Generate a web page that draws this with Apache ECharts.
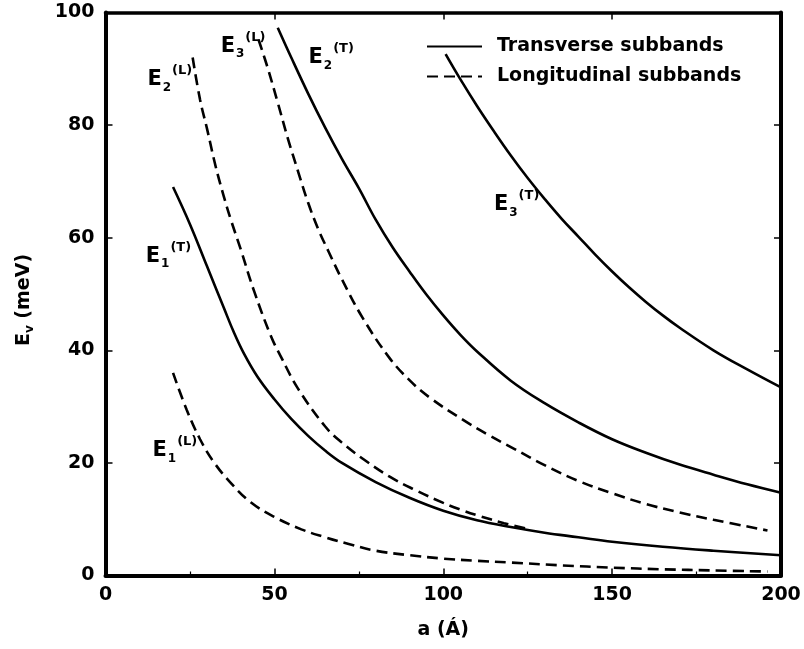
<!DOCTYPE html>
<html>
<head>
<meta charset="utf-8">
<script src="https://cdn.jsdelivr.net/npm/echarts@6/dist/echarts.min.js"></script>
<style>
html,body{margin:0;padding:0;background:#fff;}
#chart{width:804px;height:649px;}
</style>
</head>
<body>
<div id="chart"></div>
<script>
// ---- data ----
const xTicks = [0, 50, 100, 150, 200];
const yTicks = [0, 20, 40, 60, 80, 100];

const e1tX = [20, 25, 30, 35, 38, 41, 45, 50, 55, 60, 65, 70, 80, 90, 100, 110, 120, 130, 140, 150, 165, 180, 200];
const e1tY = [69, 62.4, 55.0, 47.6, 43.2, 39.4, 35.3, 31.3, 27.8, 24.8, 22.2, 20.0, 16.6, 13.8, 11.5, 9.8, 8.6, 7.6, 6.8, 6.0, 5.1, 4.4, 3.6];

const e2tX = [51, 55, 60, 65, 70, 75, 80, 85, 90, 95, 100, 105, 110, 120, 130, 140, 150, 160, 170, 180, 190, 200];
const e2tY = [97.3, 92.0, 85.6, 79.6, 74.0, 68.8, 63.2, 58.3, 54.0, 49.9, 46.2, 42.8, 39.8, 34.6, 30.6, 27.2, 24.2, 21.8, 19.7, 17.9, 16.2, 14.7];

const e3tX = [100.7, 105, 110, 115, 120, 125, 130, 135, 140, 145, 150, 155, 160, 165, 170, 180, 190, 200];
const e3tY = [92.6, 88.2, 83.4, 78.9, 74.6, 70.6, 66.9, 63.4, 60.2, 57.0, 54.0, 51.2, 48.6, 46.2, 44.0, 40.0, 36.6, 33.4];

const e1lX = [20, 24, 28, 32, 37, 43, 50, 58, 65, 72, 80, 90, 100, 110, 120, 135, 150, 165, 180, 196];
const e1lY = [36, 29.5, 24.2, 20.2, 16.5, 13.0, 10.4, 8.2, 6.8, 5.6, 4.4, 3.6, 3.0, 2.6, 2.3, 1.8, 1.4, 1.1, 0.9, 0.7];

const e2lX = [25.8, 28, 30, 32.6, 35, 37, 40, 44, 49, 52, 57, 65, 70, 76.5, 84, 91.3, 100, 106, 110, 118, 125];
const e2lY = [92, 84.5, 79.5, 72.7, 67.4, 63.4, 58.0, 50.5, 42.5, 38.8, 33.2, 26.5, 23.6, 20.6, 17.6, 15.3, 12.9, 11.5, 10.7, 9.3, 8.3];

const e3lX = [45.3, 48, 51, 54, 57, 60, 63, 66, 70, 76, 84, 90, 96, 106, 113, 121, 130, 140, 150, 160, 170, 180, 196];
const e3lY = [95.2, 90.2, 84.0, 77.6, 71.8, 66.2, 61.5, 57.6, 52.6, 45.9, 38.7, 34.7, 31.6, 27.6, 25.1, 22.5, 19.6, 16.8, 14.6, 12.7, 11.2, 9.9, 8.0];

// curve labels
const labelNames = ['E2L', 'E3L', 'E2T', 'E1T', 'E1L', 'E3T'];
const labelSub = ['2', '3', '2', '1', '1', '3'];
const labelSup = ['(L)', '(L)', '(T)', '(T)', '(L)', '(T)'];
const labelX = [12.4, 34.1, 60.1, 11.9, 13.9, 115];
const labelY = [88.1, 94.0, 92.0, 56.7, 22.2, 65.9];

const legendNames = ['Transverse subbands', 'Longitudinal subbands'];

// ---- build ----
const FONT = 'DejaVu Sans';
function pairs(xs, ys) { return xs.map((x, i) => [x, ys[i]]); }

const solidStyle = { color: '#000', width: 2.6, type: 'solid' };
const dashStyle = { color: '#000', width: 2.6, type: [11, 6] };

function curve(name, xs, ys, dashed) {
  return {
    type: 'line', name: name, data: pairs(xs, ys),
    showSymbol: false, symbol: 'none', smooth: 0.4,
    lineStyle: dashed ? dashStyle : solidStyle,
    itemStyle: { color: '#000' },
    silent: true, animation: false, z: 3
  };
}

const labelData = labelNames.map((n, i) => ({
  value: [labelX[i], labelY[i]],
  label: { formatter: 'E{sub|' + labelSub[i] + '}{sup|' + labelSup[i] + '}' }
}));

const axisTextStyle = { fontFamily: FONT, fontSize: 19, fontWeight: 'bold', color: '#000' };

const option = {
  animation: false,
  backgroundColor: '#fff',
  grid: { left: 105.5, right: 23, top: 12.5, bottom: 73.5, containLabel: false },
  legend: {
    data: legendNames.map(n => ({ name: n })),
    orient: 'vertical', left: 421, top: 32,
    itemWidth: 55, itemHeight: 20, itemGap: 11,
    selectedMode: false,
    itemStyle: { opacity: 0, color: 'rgba(0,0,0,0)', borderWidth: 0 },
    textStyle: { fontFamily: FONT, fontSize: 19, fontWeight: 'bold', color: '#000', padding: [0, 0, 0, 10] }
  },
  xAxis: [{
    type: 'value', min: xTicks[0], max: xTicks[xTicks.length - 1], interval: 50,
    position: 'bottom',
    name: 'a (Á)', nameLocation: 'middle', nameGap: 45,
    nameTextStyle: axisTextStyle,
    axisLine: { show: true, onZero: false, lineStyle: { color: '#000', width: 4 } },
    axisTick: { show: true, inside: true, length: 7, lineStyle: { color: '#000', width: 1.5 } },
    minorTick: { show: true, splitNumber: 2, length: 4, lineStyle: { color: '#000', width: 1.2 } },
    axisLabel: { ...axisTextStyle, margin: 10 },
    splitLine: { show: false }
  }, {
    type: 'value', min: xTicks[0], max: xTicks[xTicks.length - 1], interval: 50,
    position: 'top',
    axisLine: { show: true, onZero: false, lineStyle: { color: '#000', width: 3.5 } },
    axisTick: { show: true, inside: true, length: 7, lineStyle: { color: '#000', width: 1.5 } },
    axisLabel: { show: false },
    splitLine: { show: false }
  }],
  yAxis: [{
    type: 'value', min: yTicks[0], max: yTicks[yTicks.length - 1], interval: 20,
    position: 'left',
    name: 'E{v|v} (meV)', nameLocation: 'middle', nameGap: 72, nameRotate: 90,
    nameTextStyle: { ...axisTextStyle, padding: [0, 12, 0, 0], rich: { v: { fontFamily: FONT, fontSize: 12, fontWeight: 'bold', color: '#000', verticalAlign: 'bottom', padding: [0, 0, -2, 0] } } },
    axisLine: { show: true, onZero: false, lineStyle: { color: '#000', width: 4 } },
    axisTick: { show: true, inside: true, length: 7, lineStyle: { color: '#000', width: 1.5 } },
    axisLabel: { ...axisTextStyle, margin: 11 },
    splitLine: { show: false }
  }, {
    type: 'value', min: yTicks[0], max: yTicks[yTicks.length - 1], interval: 20,
    position: 'right',
    axisLine: { show: true, onZero: false, lineStyle: { color: '#000', width: 4 } },
    axisTick: { show: true, inside: true, length: 7, lineStyle: { color: '#000', width: 1.5 } },
    axisLabel: { show: false },
    splitLine: { show: false }
  }],
  series: [
    curve(legendNames[0], e1tX, e1tY, false),
    curve(legendNames[0], e2tX, e2tY, false),
    curve(legendNames[0], e3tX, e3tY, false),
    curve(legendNames[1], e1lX, e1lY, true),
    curve(legendNames[1], e2lX, e2lY, true),
    curve(legendNames[1], e3lX, e3lY, true),
    {
      type: 'scatter', name: 'labels', data: labelData,
      symbolSize: 0, silent: true, z: 5,
      itemStyle: { opacity: 1, color: '#000' },
      label: {
        show: true, position: 'right', distance: 0, opacity: 1,
        fontFamily: FONT, fontSize: 21, fontWeight: 'bold', color: '#000', lineHeight: 34,
        rich: {
          sub: { fontFamily: FONT, fontSize: 12, fontWeight: 'bold', color: '#000', verticalAlign: 'bottom', lineHeight: 34, padding: [0, 0, 3, 1] },
          sup: { fontFamily: FONT, fontSize: 13, fontWeight: 'bold', color: '#000', verticalAlign: 'top', lineHeight: 34, padding: [2, 0, 0, 1] }
        }
      }
    }
  ]
};

const chart = echarts.init(document.getElementById('chart'), null, { renderer: 'canvas' });
chart.setOption(option);
</script>
</body>
</html>
